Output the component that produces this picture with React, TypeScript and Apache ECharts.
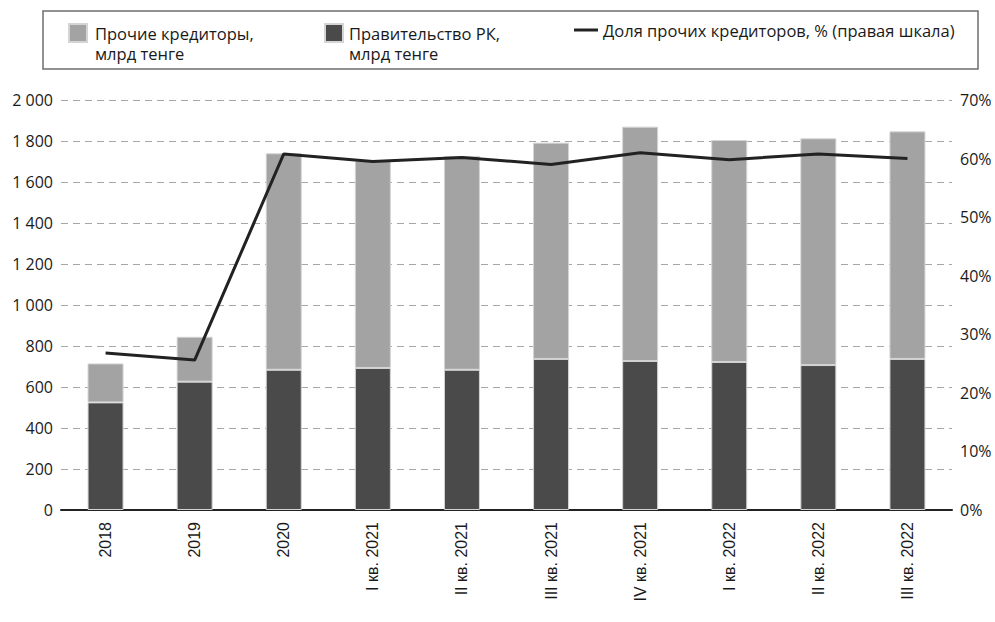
import React, { useEffect, useRef } from "react";
import * as echarts from "echarts";

const categories = ["2018", "2019", "2020", "I кв. 2021", "II кв. 2021", "III кв. 2021", "IV кв. 2021", "I кв. 2022", "II кв. 2022", "III кв. 2022"];
const governmentValues = [525, 626, 684, 693, 684, 737, 727, 722, 707, 737];
const otherCreditorsValues = [190, 219, 1056, 1011, 1043, 1055, 1143, 1083, 1106, 1110];
const otherSharePercent = [26.8, 25.6, 60.8, 59.5, 60.2, 59.0, 61.0, 59.8, 60.8, 60.0];
const leftTicks = { min: 0, max: 2000, interval: 200 };
const rightTicks = { min: 0, max: 70, interval: 10 };

const NAME_OTHER = "Прочие кредиторы,\nмлрд тенге";
const NAME_GOV = "Правительство РК,\nмлрд тенге";
const NAME_SHARE = "Доля прочих кредиторов, % (правая шкала)";

const FONT = "'Open Sans', 'Noto Sans', sans-serif";

export default function App() {
  const ref = useRef<HTMLDivElement>(null);
  useEffect(() => {
    if (!ref.current) return;
    const chart = echarts.init(ref.current, null, { renderer: "svg" });
    const legendText = { fontSize: 16.5, fontFamily: FONT, color: "#1a1a1a", lineHeight: 20 };
    chart.setOption({
      animation: false,
      backgroundColor: "#ffffff",
      graphic: [
        {
          type: "rect",
          shape: { x: 43, y: 11, width: 935, height: 58 },
          style: { fill: "none", stroke: "#6e6e6e", lineWidth: 1.5 },
          silent: true,
        },
      ],
      legend: [
        {
          data: [NAME_OTHER],
          left: 68,
          top: 23,
          padding: 0,
          icon: "path://M0,0H18V18H0Z M21,40L21.01,40",
          itemWidth: 21,
          itemHeight: 40,
          selectedMode: false,
          textStyle: { ...legendText },
        },
        {
          data: [NAME_GOV],
          left: 324,
          top: 23,
          padding: 0,
          icon: "path://M0,0H18V18H0Z M19,40L19.01,40",
          itemWidth: 19,
          itemHeight: 40,
          selectedMode: false,
          textStyle: { ...legendText },
        },
        {
          data: [NAME_SHARE],
          left: 574,
          top: 20,
          padding: 0,
          icon: "rect",
          itemWidth: 24,
          itemHeight: 3,
          selectedMode: false,
          textStyle: { ...legendText },
        },
      ],
      grid: { left: 61, right: 43, top: 100, bottom: 112, containLabel: false },
      xAxis: {
        type: "category",
        data: categories,
        axisLine: { show: true, lineStyle: { color: "#222222", width: 2 } },
        axisTick: { show: false },
        axisLabel: {
          rotate: 90,
          margin: 12,
          fontSize: 16,
          fontFamily: "'Liberation Sans', Arial, sans-serif",
          color: "#1a1a1a",
        },
      },
      yAxis: [
        {
          type: "value",
          min: leftTicks.min,
          max: leftTicks.max,
          interval: leftTicks.interval,
          axisLine: { show: false },
          axisTick: { show: false },
          axisLabel: {
            margin: 8,
            fontSize: 16,
            fontFamily: FONT,
            color: "#1a1a1a",
            formatter: (v: number) => String(v).replace(/\B(?=(\d{3})+(?!\d))/g, " "),
          },
          splitLine: { show: true, lineStyle: { color: "#a6a6a6", type: [7, 5], width: 1 } },
        },
        {
          type: "value",
          min: rightTicks.min,
          max: rightTicks.max,
          interval: rightTicks.interval,
          position: "right",
          axisLine: { show: false },
          axisTick: { show: false },
          axisLabel: {
            margin: 8,
            fontSize: 16,
            fontFamily: FONT,
            color: "#1a1a1a",
            formatter: "{value}%",
          },
          splitLine: { show: false },
        },
      ],
      series: [
        {
          name: NAME_GOV,
          type: "bar",
          stack: "total",
          barWidth: 36,
          data: governmentValues,
          itemStyle: { color: "#4a4a4a", borderColor: "#d4d4d4", borderWidth: 1 },
        },
        {
          name: NAME_OTHER,
          type: "bar",
          stack: "total",
          barWidth: 36,
          data: otherCreditorsValues,
          itemStyle: { color: "#a3a3a3", borderColor: "#d4d4d4", borderWidth: 1 },
        },
        {
          name: NAME_SHARE,
          type: "line",
          yAxisIndex: 1,
          data: otherSharePercent,
          symbol: "none",
          color: "#222222",
          lineStyle: { color: "#222222", width: 3 },
          z: 5,
        },
      ],
    });
    return () => chart.dispose();
  }, []);
  return <div ref={ref} style={{ width: 995, height: 622, position: "absolute", left: 0, top: 0 }} />;
}
